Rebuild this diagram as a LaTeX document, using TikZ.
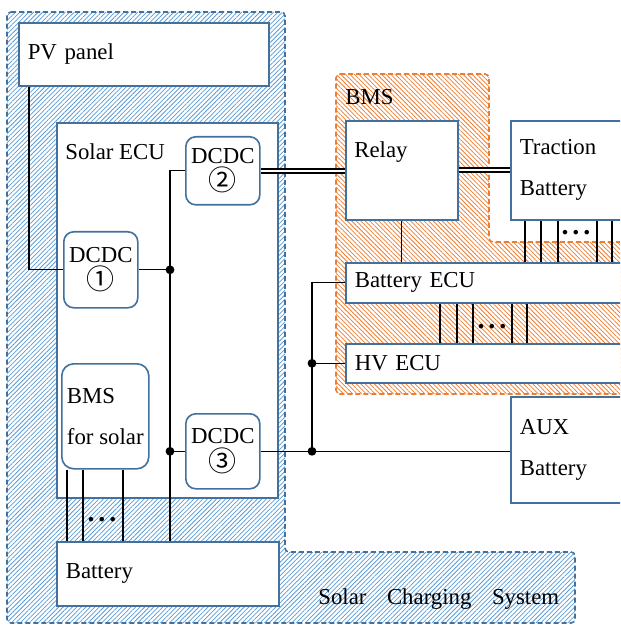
\documentclass[tikz,border=0pt]{standalone}
\usepackage{fontspec}
\setmainfont{Liberation Serif}
\newfontfamily\circfont{Noto Sans CJK JP}
\usetikzlibrary{patterns.meta}

\definecolor{boxblue}{RGB}{65,113,156}
\definecolor{hatchblue}{RGB}{91,155,213}
\definecolor{bmsorange}{RGB}{237,125,49}

\tikzset{
  box/.style={draw=boxblue, line width=0.8pt, fill=white, anchor=north west,
    inner xsep=4.5pt, inner ysep=0pt, align=left},
  dcdc/.style={box, rounded corners=5pt, align=center, inner xsep=0pt,
    minimum width=37pt, font=\fontsize{11.4}{13.7}\selectfont},
  toplbl/.style={label={[anchor=north west, inner sep=0pt, xshift=4.5pt, yshift=-10.5pt]north west:#1}},
  wire/.style={line width=0.6pt},
  dbl/.style={double, double distance=1pt, line width=1pt},
  jdot/.style={circle, fill, inner sep=0pt, minimum size=4.4pt},
  dots/.style={anchor=base, inner sep=0pt, font=\fontsize{14}{14}\selectfont\bfseries},
  region/.style={dash pattern=on 2.5pt off 1.5pt, line width=0.8pt, rounded corners=2pt},
}
\newcommand{\circnum}[1]{{\circfont\fontsize{14}{13.7}\selectfont #1}}

\begin{document}
\begin{tikzpicture}[x=0.5pt, y=-0.5pt, font=\fontsize{11.4}{20.5}\selectfont]
  \useasboundingbox (0,0) rectangle (620,625);
  \clip (0,0) rectangle (620,625);

  % hatched areas
  \draw[region, draw=boxblue, pattern={Lines[angle=45,distance=1.6pt,line width=0.38pt]}, pattern color=hatchblue]
    (7,12) -- (285,12) -- (285,552) -- (575,552) -- (575,623) -- (7,623) -- cycle;
  \draw[region, draw=bmsorange, pattern={Lines[angle=-45,distance=1.6pt,line width=0.38pt]}, pattern color=bmsorange]
    (336,74) -- (489,74) -- (489,242) -- (650,242) -- (650,394) -- (336,394) -- cycle;
  \node[anchor=base west, inner sep=0pt] (bmslbl) at (345,105) {BMS};
  \node[anchor=base west, inner sep=0pt] (scslbl) at (318,604) {Solar\hspace{0.9em}Charging\hspace{0.9em}System};

  % solar side
  \node[box, text width=116pt, minimum height=31.5pt] (pv) at (18,22) {PV panel};
  \node[box, text width=101.5pt, minimum height=187.5pt, toplbl=Solar ECU] (secu) at (56,122) {};
  \node[dcdc, minimum height=34pt] (dcdc2) at (185,136) {DCDC\\\circnum{②}};
  \node[dcdc, minimum height=38pt] (dcdc1) at (63,231) {DCDC\\\circnum{①}};
  \node[box, rounded corners=6pt, inner xsep=0pt, minimum width=43.5pt, minimum height=52.5pt] (bmss) at (61,363) {BMS\\for solar};
  \node[dcdc, minimum height=37.5pt] (dcdc3) at (185,413) {DCDC\\\circnum{③}};
  \node[box, text width=102pt, minimum height=32pt] (batt) at (56,541) {Battery};

  % vehicle side
  \node[box, text width=47pt, minimum height=49.5pt, toplbl=Relay] (relay) at (345,120) {};
  \node[box, text width=56pt, minimum height=49.5pt] (trac) at (510,120) {Traction\\Battery};
  \node[box, text width=140pt, minimum height=20pt] (becu) at (345,262) {Battery ECU};
  \node[box, text width=140pt, minimum height=19.5pt] (hvecu) at (345,343) {HV ECU};
  \node[box, text width=56pt, minimum height=53pt] (aux) at (510,396) {AUX\\Battery};

  % wiring
  \coordinate (bus) at (170,0);
  \coordinate (hvbus) at (312,0);
  \draw[wire] ([xshift=5.5pt]pv.south west) |- (dcdc1.west);
  \draw[wire] (dcdc2.west) -| (bus |- batt.north);
  \draw[wire] (dcdc1.east) -- (bus |- dcdc1.east) node[jdot] (j1) {};
  \draw[wire] (dcdc3.west) -- (bus |- dcdc3.west) node[jdot] (j3) {};
  \draw[wire] (dcdc3.east) -- (dcdc3.east -| aux.west);
  \draw[wire] (becu.west) -| (hvbus |- dcdc3.east) node[jdot] (j4) {};
  \draw[wire] (hvecu.west) -- (hvbus |- hvecu.west) node[jdot] (j5) {};
  \draw[dbl] (dcdc2.east) -- (dcdc2.east -| relay.west);
  \draw[dbl] (relay.east) -- (trac.west);
  \draw[wire] (relay.south) -- (relay.south |- becu.north);
  \foreach \x in {525,541,558,597,612}
    \draw[wire] (trac.south -| \x,0) -- (becu.north -| \x,0);
  \foreach \x in {440,457,473,512,527}
    \draw[wire] (becu.south -| \x,0) -- (hvecu.north -| \x,0);
  \foreach \x in {67,83,123}
    \draw[wire] (bmss.south -| \x,0) -- (batt.north -| \x,0);
  \node[dots] (tdots) at (576,235) {.\hspace{2pt}.\hspace{2pt}.};
  \node[dots] (edots) at (492,328) {.\hspace{2pt}.\hspace{2pt}.};
  \node[dots] (sdots) at (102,521) {.\hspace{2pt}.\hspace{2pt}.};
\end{tikzpicture}
\end{document}
